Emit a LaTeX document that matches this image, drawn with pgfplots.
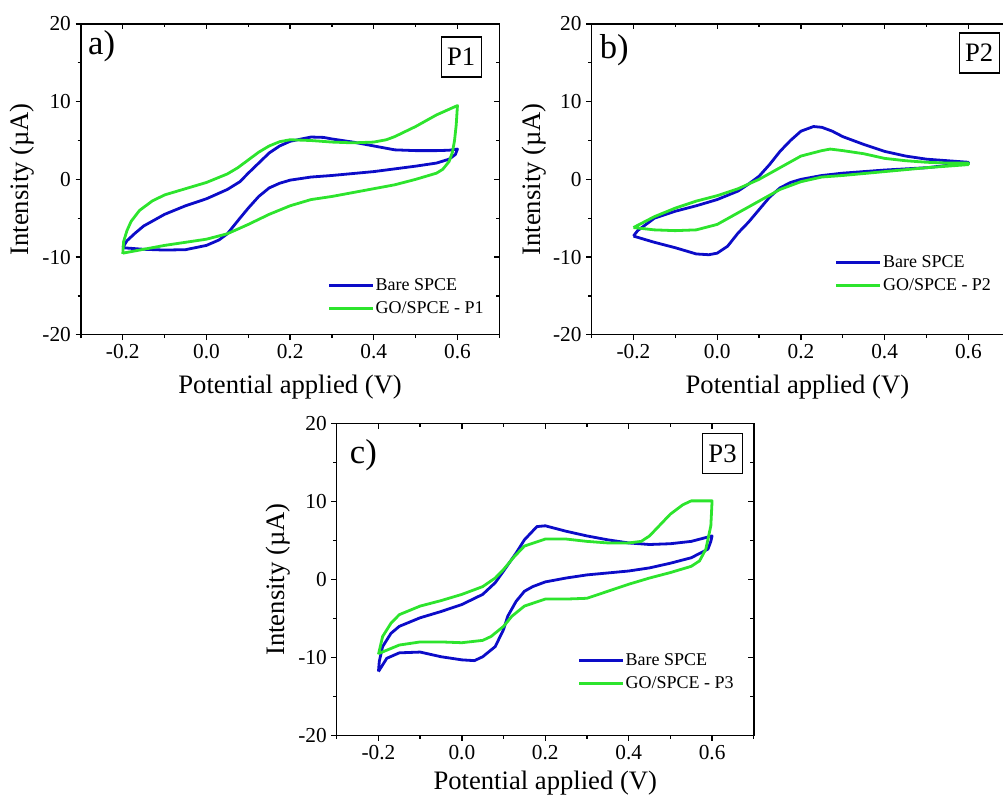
\documentclass[border=0pt]{standalone}
\usepackage{fontspec}
\setmainfont{Liberation Serif}
\usepackage{pgfplots}
\pgfplotsset{compat=1.18}
\definecolor{cvblue}{RGB}{12,12,200}
\definecolor{cvgreen}{RGB}{45,228,45}
\pgfplotsset{
 cvbase/.style={scale only axis, width=314pt, height=233.25pt,
   xmin=-0.3, xmax=0.7, ymin=-20, ymax=20,
   xtick={-0.2,0,0.2,0.4,0.6}, ytick={-20,-10,0,10,20},
   minor xtick={-0.3,-0.1,0.1,0.3,0.5,0.7}, minor ytick={-15,-5,5,15},
   axis line style={line width=1.1pt},
   every tick/.style={black, line width=1pt},
   major tick length=4pt, minor tick length=2.5pt},
 cvmain/.style={cvbase, tick pos=left, tick align=outside,
   /pgf/number format/assume math mode=true,
   ticklabel style={font=\fontsize{16}{19}\selectfont},
   xticklabel style={/pgf/number format/.cd, fixed, fixed zerofill, precision=1, /tikz/.cd},
   xlabel={Potential applied (V)}, ylabel={Intensity (µA)},
   xlabel style={font=\fontsize{20}{24}\selectfont, inner sep=0pt, at={(axis description cs:0.5,-0.167)}, anchor=center},
   ylabel style={font=\fontsize{20}{24}\selectfont, inner sep=0pt, at={(axis description cs:-0.14,0.5)}, anchor=center},
   legend cell align=left,
   legend image code/.code={\draw[#1] (0pt,0pt) -- (33pt,0pt);},
   every axis plot/.append style={line width=2.1pt, line join=round}},
 cvmirror/.style={cvbase, tick pos=right, tick align=inside, xticklabels={}, yticklabels={}},
 lg/.style={legend style={draw=none, fill=none, at={#1}, anchor=west,
   font=\fontsize{13.5}{15}\selectfont, row sep=3pt, inner sep=0pt,
   nodes={inner xsep=1pt}}},
}
\begin{document}
\begin{tikzpicture}
\path (0,0) rectangle (753pt,597.75pt);
% ---------- a ----------
\begin{axis}[cvmain, at={(60.75pt,346.5pt)}, anchor=south west, lg={(0.589,0.121)}]
\addplot[cvblue] coordinates {(-0.2,-8.8) (-0.19,-7.9) (-0.17,-6.9) (-0.15,-6.0) (-0.1,-4.5) (-0.05,-3.4) (0,-2.5) (0.05,-1.3) (0.08,-0.3) (0.1,0.8) (0.125,2.1) (0.15,3.4) (0.175,4.3) (0.2,4.9) (0.25,5.45) (0.28,5.4) (0.3,5.2) (0.35,4.8) (0.4,4.3) (0.45,3.8) (0.5,3.7) (0.55,3.7) (0.58,3.75) (0.6,3.9)
(0.595,3.2) (0.58,2.6) (0.55,2.1) (0.5,1.7) (0.4,1.0) (0.3,0.5) (0.25,0.3) (0.2,-0.1) (0.175,-0.5) (0.15,-1.1) (0.125,-2.2) (0.1,-3.7) (0.08,-5.0) (0.05,-7.0) (0.03,-7.8) (0,-8.5) (-0.05,-9.05) (-0.1,-9.1) (-0.15,-9.0) (-0.2,-8.8)};
\addlegendentry{Bare SPCE}
\addplot[cvgreen] coordinates {(-0.2,-9.6) (-0.198,-8.0) (-0.19,-6.6) (-0.18,-5.4) (-0.16,-4.0) (-0.13,-2.8) (-0.1,-2.0) (-0.05,-1.2) (0,-0.4) (0.05,0.7) (0.075,1.5) (0.1,2.5) (0.125,3.5) (0.15,4.3) (0.175,4.85) (0.2,5.1) (0.25,5.0) (0.3,4.8) (0.35,4.7) (0.4,4.8) (0.43,5.1) (0.45,5.5) (0.5,6.8) (0.55,8.3) (0.6,9.5)
(0.597,7.0) (0.593,5.0) (0.588,3.5) (0.58,2.3) (0.565,1.3) (0.55,0.8) (0.5,0.0) (0.45,-0.7) (0.4,-1.2) (0.35,-1.7) (0.3,-2.2) (0.25,-2.6) (0.2,-3.4) (0.15,-4.5) (0.1,-5.8) (0.05,-7.0) (0,-7.7) (-0.05,-8.1) (-0.1,-8.5) (-0.15,-9.0) (-0.2,-9.5)};
\addlegendentry{GO/SPCE - P1}
\node[anchor=west, inner sep=0pt, font=\fontsize{26}{30}\selectfont] at (rel axis cs:0.0167,0.929) {a)};
\node[draw, line width=1pt, minimum width=30pt, minimum height=30pt, inner sep=1pt, font=\fontsize{20}{24}\selectfont] at (rel axis cs:0.909,0.894) {P1};
\end{axis}
\begin{axis}[cvmirror, at={(60.75pt,346.5pt)}, anchor=south west]
\end{axis}
% ---------- b (cut at the right edge) ----------
\begin{axis}[cvmain, at={(444pt,346.5pt)}, anchor=south west, width=309pt, xmax=0.6833,
  axis y line*=left, tick align=outside, lg={(0.5905,0.196)}]
\addplot[cvblue] coordinates {(-0.2,-7.3) (-0.19,-6.6) (-0.15,-5.0) (-0.1,-4.1) (-0.05,-3.4) (0,-2.6) (0.05,-1.5) (0.075,-0.6) (0.1,0.4) (0.125,1.9) (0.15,3.6) (0.175,5.0) (0.2,6.2) (0.23,6.8) (0.25,6.7) (0.275,6.2) (0.3,5.5) (0.35,4.5) (0.4,3.6) (0.45,3.0) (0.5,2.6) (0.55,2.4) (0.6,2.2)
(0.6,2.1) (0.55,1.8) (0.5,1.5) (0.4,1.2) (0.3,0.8) (0.25,0.5) (0.2,0.0) (0.175,-0.4) (0.15,-1.1) (0.125,-2.3) (0.1,-3.9) (0.075,-5.5) (0.05,-6.9) (0.025,-8.6) (0,-9.5) (-0.02,-9.7) (-0.05,-9.6) (-0.1,-8.8) (-0.15,-8.1) (-0.2,-7.3)};
\addlegendentry{Bare SPCE}
\addplot[cvgreen] coordinates {(-0.2,-6.2) (-0.15,-4.8) (-0.1,-3.7) (-0.05,-2.8) (0,-2.1) (0.05,-1.2) (0.1,0.0) (0.15,1.5) (0.2,3.0) (0.25,3.7) (0.27,3.9) (0.3,3.7) (0.35,3.3) (0.4,2.7) (0.45,2.4) (0.5,2.2) (0.55,2.1) (0.6,2.1)
(0.6,1.9) (0.5,1.5) (0.4,1.0) (0.3,0.5) (0.25,0.3) (0.2,-0.3) (0.15,-1.3) (0.1,-2.8) (0.05,-4.3) (0,-5.8) (-0.05,-6.5) (-0.1,-6.6) (-0.15,-6.5) (-0.2,-6.2)};
\addlegendentry{GO/SPCE - P2}
\node[anchor=west, inner sep=0pt, font=\fontsize{26}{30}\selectfont] at (rel axis cs:0.0193,0.916) {b)};
\node[draw, line width=1pt, minimum width=30pt, minimum height=30pt, inner sep=1pt, font=\fontsize{20}{24}\selectfont] at (rel axis cs:0.9415,0.907) {P2};
\end{axis}
\begin{axis}[cvbase, at={(444pt,346.5pt)}, anchor=south west, width=309pt, xmax=0.6833,
  axis x line*=top, axis y line=none, tick align=inside, xticklabels={}, yticklabels={}]
\end{axis}
% ---------- c ----------
\begin{axis}[cvmain, at={(252.75pt,45.75pt)}, anchor=south west, width=313pt, height=234pt, lg={(0.577,0.2035)},
  xlabel style={at={(axis description cs:0.5,0)}, anchor=base, yshift=-40.5pt, text depth=0pt}]
\addplot[cvblue] coordinates {(-0.2,-11.8) (-0.198,-10.5) (-0.19,-8.6) (-0.17,-6.9) (-0.15,-6.0) (-0.1,-4.9) (-0.05,-4.1) (0,-3.2) (0.05,-1.9) (0.08,-0.4) (0.1,1.1) (0.13,3.4) (0.15,5.1) (0.18,6.8) (0.2,6.9) (0.25,6.2) (0.3,5.6) (0.35,5.1) (0.4,4.7) (0.45,4.5) (0.5,4.6) (0.55,4.9) (0.6,5.6)
(0.597,4.9) (0.59,3.9) (0.55,2.8) (0.5,2.1) (0.45,1.5) (0.4,1.1) (0.3,0.6) (0.25,0.2) (0.2,-0.3) (0.17,-0.9) (0.15,-1.5) (0.13,-2.8) (0.11,-4.7) (0.1,-6.4) (0.08,-8.6) (0.05,-9.9) (0.03,-10.4) (0,-10.3) (-0.05,-9.9) (-0.1,-9.3) (-0.15,-9.4) (-0.18,-10.1) (-0.2,-11.8)};
\addlegendentry{Bare SPCE}
\addplot[cvgreen] coordinates {(-0.2,-9.6) (-0.19,-7.3) (-0.17,-5.6) (-0.15,-4.5) (-0.1,-3.4) (-0.05,-2.7) (0,-1.9) (0.05,-0.9) (0.08,0.2) (0.1,1.3) (0.125,2.9) (0.15,4.3) (0.2,5.2) (0.25,5.2) (0.3,4.9) (0.35,4.7) (0.4,4.7) (0.43,4.9) (0.45,5.6) (0.5,8.4) (0.53,9.6) (0.55,10.1) (0.6,10.1)
(0.597,6.9) (0.585,3.9) (0.57,2.4) (0.55,1.7) (0.5,0.9) (0.45,0.2) (0.4,-0.6) (0.35,-1.5) (0.3,-2.4) (0.25,-2.5) (0.2,-2.5) (0.15,-3.4) (0.12,-4.7) (0.1,-6.0) (0.07,-7.3) (0.05,-7.8) (0,-8.1) (-0.05,-8.0) (-0.1,-8.0) (-0.15,-8.4) (-0.2,-9.5)};
\addlegendentry{GO/SPCE - P3}
\node[anchor=west, inner sep=0pt, font=\fontsize{26}{30}\selectfont] at (rel axis cs:0.031,0.90) {c)};
\node[draw, line width=1pt, minimum width=30pt, minimum height=30pt, inner sep=1pt, font=\fontsize{20}{24}\selectfont] at (rel axis cs:0.925,0.905) {P3};
\end{axis}
\begin{axis}[cvmirror, at={(252.75pt,45.75pt)}, anchor=south west, width=313pt, height=234pt]
\end{axis}
\end{tikzpicture}
\end{document}
